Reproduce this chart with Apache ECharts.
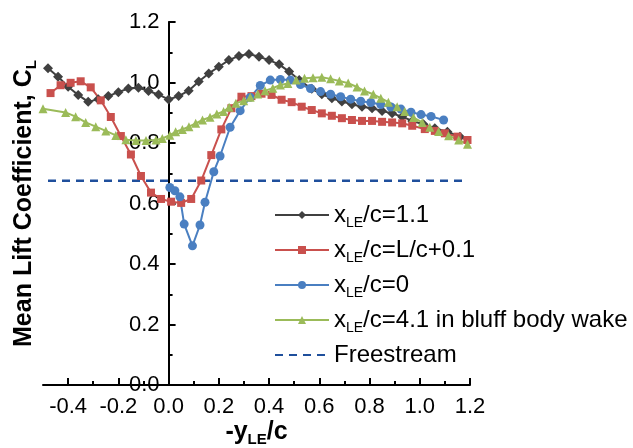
<!DOCTYPE html>
<html><head><meta charset="utf-8">
<script src="https://cdn.jsdelivr.net/npm/echarts@6/dist/echarts.min.js"></script>
<style>html,body{margin:0;padding:0;background:#fff}#c{width:633px;height:448px}</style>
</head><body><div id="c"></div>
<script>
// ---- data ----
const xBlack = [-0.48,-0.44,-0.40,-0.36,-0.32,-0.28,-0.24,-0.20,-0.16,-0.12,-0.08,-0.04,0.00,0.04,0.08,0.12,0.16,0.20,0.24,0.28,0.32,0.36,0.40,0.44,0.48,0.52,0.57,0.61,0.65,0.69,0.73,0.77,0.81,0.85,0.89,0.93,0.97,1.015,1.06,1.11,1.16];
const yBlack = [1.047,1.019,0.986,0.959,0.936,0.945,0.955,0.968,0.980,0.983,0.972,0.960,0.944,0.955,0.973,1.003,1.030,1.052,1.074,1.088,1.094,1.085,1.074,1.060,1.036,1.008,0.979,0.961,0.948,0.937,0.928,0.920,0.915,0.906,0.898,0.887,0.873,0.862,0.849,0.837,0.821];

const xRed = [-0.47,-0.43,-0.39,-0.35,-0.31,-0.27,-0.23,-0.19,-0.15,-0.11,-0.07,-0.03,0.01,0.05,0.09,0.13,0.17,0.21,0.25,0.29,0.33,0.37,0.41,0.45,0.49,0.53,0.57,0.61,0.65,0.69,0.73,0.77,0.81,0.85,0.89,0.93,0.97,1.02,1.06,1.10,1.15,1.19];
const yRed = [0.965,0.991,0.999,1.004,0.984,0.941,0.886,0.823,0.762,0.691,0.636,0.615,0.606,0.602,0.615,0.676,0.760,0.845,0.915,0.953,0.955,0.963,0.959,0.943,0.935,0.920,0.909,0.898,0.890,0.882,0.876,0.873,0.873,0.870,0.868,0.865,0.857,0.846,0.840,0.832,0.821,0.810];

const xBlue = [0.005,0.025,0.045,0.062,0.095,0.125,0.145,0.18,0.205,0.245,0.285,0.325,0.365,0.405,0.445,0.485,0.525,0.565,0.605,0.645,0.685,0.725,0.765,0.805,0.845,0.885,0.925,0.965,1.005,1.045,1.095];
const yBlue = [0.653,0.642,0.622,0.532,0.460,0.529,0.604,0.705,0.757,0.852,0.907,0.951,0.990,1.008,1.010,1.008,0.993,0.980,0.970,0.961,0.953,0.945,0.938,0.934,0.927,0.919,0.912,0.902,0.894,0.888,0.876];

const xGreen = [-0.5,-0.41,-0.37,-0.33,-0.29,-0.25,-0.21,-0.17,-0.13,-0.09,-0.05,-0.025,0.005,0.028,0.055,0.081,0.108,0.135,0.165,0.192,0.219,0.241,0.268,0.299,0.325,0.355,0.384,0.415,0.445,0.475,0.508,0.541,0.575,0.61,0.645,0.68,0.715,0.75,0.78,0.815,0.845,0.875,0.91,0.94,0.975,1.01,1.04,1.075,1.115,1.155,1.19];
const yGreen = [0.913,0.901,0.887,0.868,0.854,0.840,0.825,0.811,0.808,0.808,0.810,0.815,0.826,0.837,0.845,0.854,0.865,0.876,0.885,0.896,0.904,0.918,0.931,0.940,0.951,0.962,0.973,0.981,0.992,0.997,1.008,1.014,1.016,1.017,1.012,1.005,0.998,0.985,0.972,0.961,0.948,0.935,0.920,0.904,0.884,0.868,0.852,0.838,0.824,0.810,0.796];

const xFree = [-0.48, 1.18];
const yFree = [0.675, 0.675];

const seriesNames = ['xLE/c=1.1', 'xLE/c=L/c+0.1', 'xLE/c=0', 'xLE/c=4.1 in bluff body wake', 'Freestream'];
const xMajorTicks = [-0.4,-0.2,0,0.2,0.4,0.6,0.8,1.0,1.2];
const xMinorTicks = [-0.3,-0.1,0.1,0.3,0.5,0.7,0.9,1.1];

// ---- chart ----
const FONT = '"Liberation Sans", Arial, sans-serif';
const zip = (xs, ys) => xs.map((x, i) => [x, ys[i]]);
const chart = echarts.init(document.getElementById('c'), null, {renderer: 'canvas'});

const GRID = {left: 43, right: 163, top: 22, bottom: 63};
const X_MIN = -0.5, X_MAX = 1.2;
// place the y axis at x = 0 by offsetting it into the grid
const plotW = 633 - GRID.left - GRID.right;
const yAxisOffset = -plotW * (0 - X_MIN) / (X_MAX - X_MIN);

function lineSeries(name, xs, ys, color, symbol, size) {
  return {
    name, type: 'line', data: zip(xs, ys), symbol, symbolSize: size,
    lineStyle: {color, width: 2}, itemStyle: {color, borderWidth: 0},
    animation: false, z: 3
  };
}

const titleRich = {
  b: {fontFamily: FONT, fontWeight: 'bold', fontSize: 25, color: '#000', lineHeight: 30},
  bs: {fontFamily: FONT, fontWeight: 'bold', fontSize: 15, color: '#000', lineHeight: 14, verticalAlign: 'bottom'}
};

chart.setOption({
  backgroundColor: '#fff',
  animation: false,
  grid: Object.assign({outerBoundsMode: 'none', containLabel: false}, GRID),
  legend: {
    orient: 'vertical', left: 269, top: 198, itemWidth: 54, itemHeight: 10, itemGap: 8,
    data: seriesNames.slice(0, 4).concat([{name: seriesNames[4], itemStyle: {opacity: 0}}]),
    formatter: function (name) {
      if (name.indexOf('xLE') === 0) return '{n|x}{s|LE}{n|' + name.slice(3) + '}';
      return '{n|' + name + '}';
    },
    textStyle: {
      fontFamily: FONT, color: '#000', fontSize: 24,
      rich: {
        n: {fontFamily: FONT, color: '#000', fontSize: 24, lineHeight: 30},
        s: {fontFamily: FONT, color: '#000', fontSize: 14, lineHeight: 14, verticalAlign: 'bottom'}
      }
    }
  },
  xAxis: [{
    type: 'value', min: X_MIN, max: X_MAX, position: 'bottom',
    name: '{b|-y}{bs|LE}{b|/c}', nameLocation: 'middle', nameGap: 32, nameMoveOverlap: false,
    nameTextStyle: {rich: titleRich},
    axisLine: {onZero: false, lineStyle: {color: '#000', width: 2}},
    axisTick: {inside: true, length: 7, customValues: xMajorTicks, lineStyle: {color: '#000', width: 2}},
    axisLabel: {customValues: xMajorTicks, formatter: v => v.toFixed(1), fontFamily: FONT, fontSize: 22, color: '#000', margin: 11, hideOverlap: false},
    splitLine: {show: false}
  }, {
    type: 'value', min: X_MIN, max: X_MAX, position: 'bottom',
    axisLine: {show: false, onZero: false},
    axisTick: {inside: true, length: 4, customValues: xMinorTicks, lineStyle: {color: '#000', width: 2}},
    axisLabel: {show: false},
    splitLine: {show: false}
  }],
  yAxis: {
    type: 'value', min: 0, max: 1.2, interval: 0.2, position: 'left', offset: yAxisOffset,
    name: '{b|Mean Lift Coefficient, C}{bs|L}', nameLocation: 'middle', nameGap: 129, nameRotate: 90, nameMoveOverlap: false,
    nameTextStyle: {rich: titleRich},
    axisLine: {onZero: false, lineStyle: {color: '#000', width: 2}},
    axisTick: {inside: true, length: 7, lineStyle: {color: '#000', width: 2}},
    minorTick: {show: true, splitNumber: 2, length: 4, lineStyle: {color: '#000', width: 2}},
    axisLabel: {formatter: v => v.toFixed(1), fontFamily: FONT, fontSize: 22, color: '#000', margin: 9},
    splitLine: {show: false}
  },
  series: [
    lineSeries(seriesNames[0], xBlack, yBlack, '#404040', 'diamond', 10),
    lineSeries(seriesNames[1], xRed, yRed, '#c9504d', 'rect', 8),
    lineSeries(seriesNames[2], xBlue, yBlue, '#4a7fc1', 'circle', 9),
    lineSeries(seriesNames[3], xGreen, yGreen, '#9bbb59', 'triangle', 9),
    {
      name: seriesNames[4], type: 'line', data: zip(xFree, yFree), symbol: 'none',
      lineStyle: {color: '#1f4f9c', width: 2.5, type: [8, 6]}, itemStyle: {color: '#1f4f9c'},
      animation: false, z: 2
    }
  ]
});
</script>
</body></html>
